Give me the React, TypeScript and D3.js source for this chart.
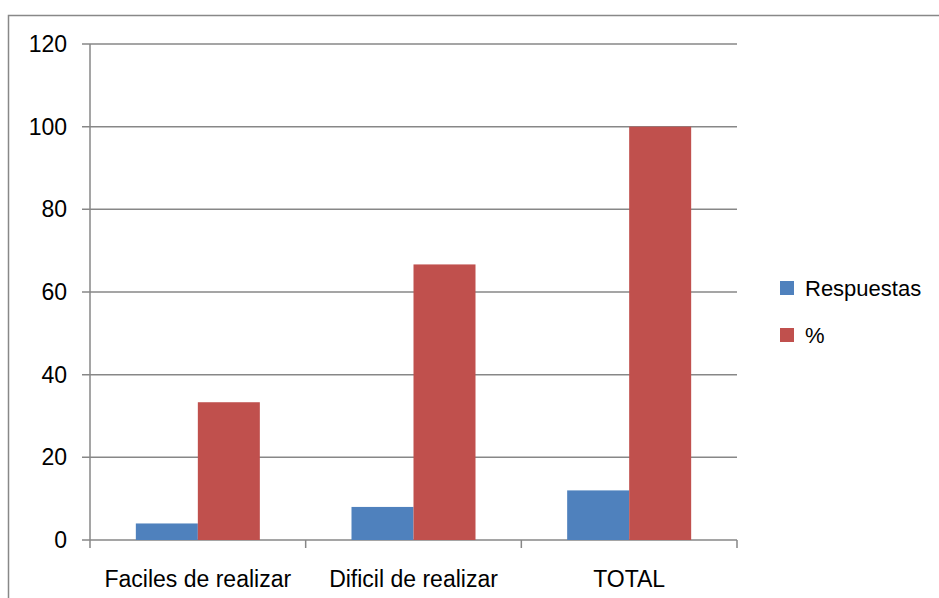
import React from "react";
import * as d3 from "d3";

const categories = ["Faciles de realizar", "Dificil de realizar", "TOTAL"];
const seriesNames = ["Respuestas", "%"];
const respuestas = [4, 8, 12];
const porcentaje = [33.33, 66.67, 100];
const yTicks = [0, 20, 40, 60, 80, 100, 120];
const colors = ["#4F81BD", "#C0504D"];

const W = 939;
const H = 598;
const FONT = "'Liberation Sans', Arial, sans-serif";

export default function App() {
  const left = 90, right = 737, top = 44, bottom = 540;
  const x = d3.scaleBand<string>().domain(categories).range([left, right]).paddingInner(0).paddingOuter(0);
  const barW = 62;
  const groupStart = (x.bandwidth() - 2 * barW) / 2;
  const inner = d3.scaleBand<string>().domain(seriesNames).range([groupStart, groupStart + 2 * barW]);
  const y = d3.scaleLinear().domain([0, 120]).range([bottom, top]);
  const series = [respuestas, porcentaje];
  const tickXs = [left, ...categories.map((c) => (x(c) as number) + x.bandwidth())];

  return (
    <svg width={W} height={H} style={{ position: "absolute", left: 0, top: 0, background: "#fff" }}>
      <rect x={8.5} y={15.5} width={W + 20} height={H + 20} fill="#fff" stroke="#888" strokeWidth={1.5} />
      {yTicks.map((t) => (
        <g key={t}>
          <line x1={82} x2={right} y1={y(t)} y2={y(t)} stroke="#878787" strokeWidth={1.5} />
          <text x={67} y={y(t)} textAnchor="end" dominantBaseline="central" fontFamily={FONT} fontSize={23} fill="#000">
            {t}
          </text>
        </g>
      ))}
      <line x1={left} x2={left} y1={top} y2={bottom} stroke="#878787" strokeWidth={1.5} />
      {tickXs.map((tx, i) => (
        <line key={i} x1={tx} x2={tx} y1={bottom} y2={548} stroke="#878787" strokeWidth={1.5} />
      ))}
      {categories.map((c, ci) => (
        <g key={c}>
          {series.map((s, si) => {
            const bx = (x(c) as number) + (inner(seriesNames[si]) as number);
            return (
              <rect key={si} x={bx} y={y(s[ci])} width={inner.bandwidth()} height={bottom - y(s[ci])} fill={colors[si]} />
            );
          })}
          <text x={(x(c) as number) + x.bandwidth() / 2} y={587} textAnchor="middle" fontFamily={FONT} fontSize={23} fill="#000">
            {c}
          </text>
        </g>
      ))}
      {seriesNames.map((n, i) => (
        <g key={n}>
          <rect x={780} y={281 + i * 47} width={14} height={14} fill={colors[i]} />
          <text x={805} y={296 + i * 47} fontFamily={FONT} fontSize={22} fill="#000">
            {n}
          </text>
        </g>
      ))}
    </svg>
  );
}
